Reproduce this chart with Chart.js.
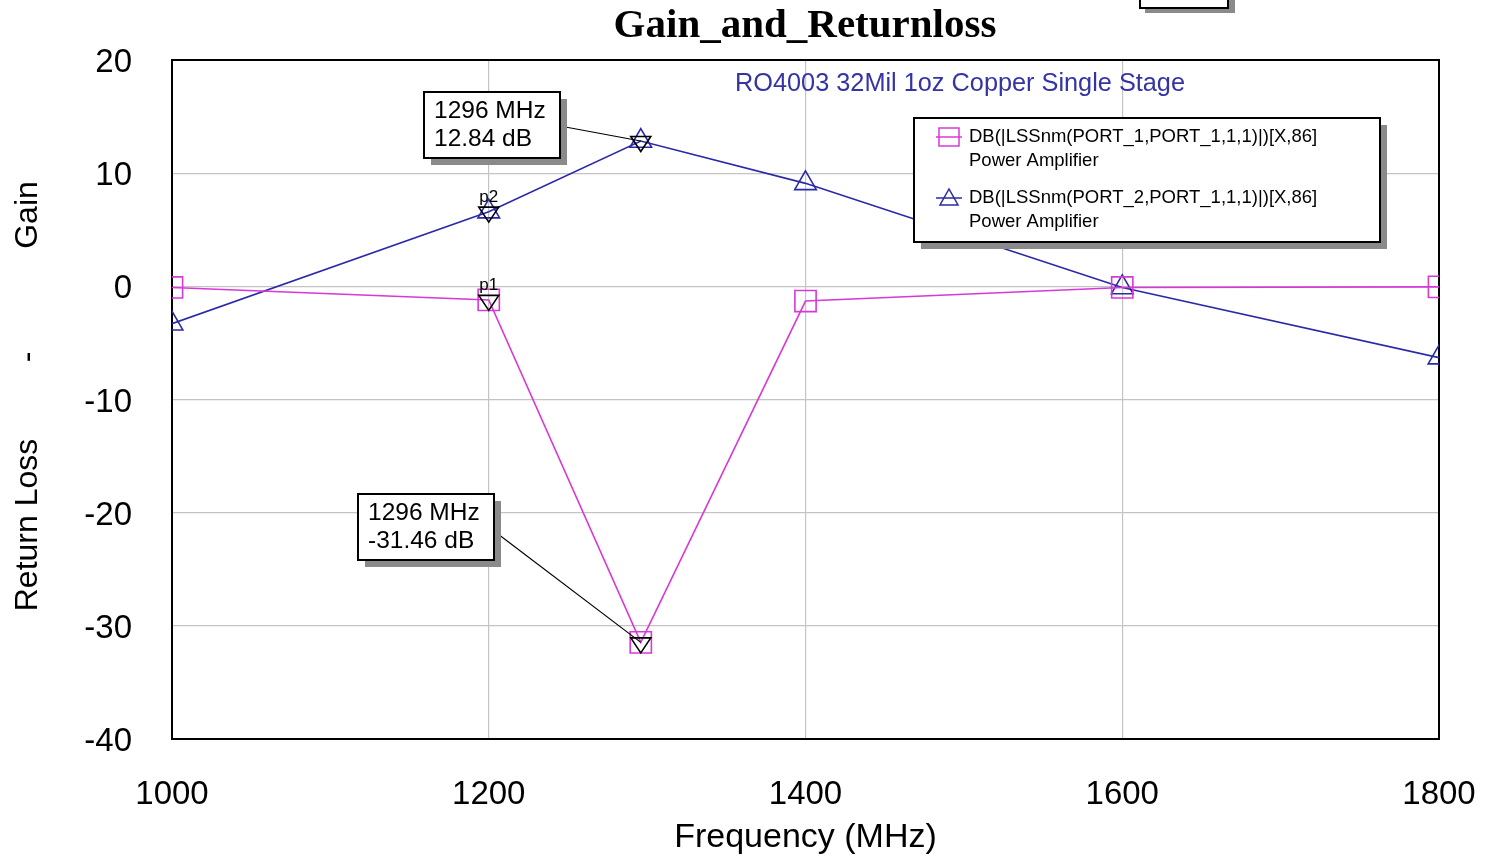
<!DOCTYPE html>
<html>
<head>
<meta charset="utf-8">
<script src="https://cdn.jsdelivr.net/npm/chart.js@4.4.0/dist/chart.umd.min.js"></script>
<style>
html,body{margin:0;padding:0;background:#fff;}
#wrap{width:1491px;height:858px;}
</style>
</head>
<body>
<div id="wrap"><canvas id="c" width="1491" height="858"></canvas></div>
<script>
// ---- data ----
const frequency = [1000, 1200, 1296, 1400, 1600, 1800];
const returnLoss = [-0.1, -1.2, -31.46, -1.3, -0.1, -0.05];
const gain = [-3.3, 6.6, 12.84, 9.1, -0.1, -6.3];
const xTicks = [1000, 1200, 1400, 1600, 1800];
const yTicks = [20, 10, 0, -10, -20, -30, -40];
const seriesNames = ['DB(|LSSnm(PORT_1,PORT_1,1,1)|)[X,86]', 'DB(|LSSnm(PORT_2,PORT_1,1,1)|)[X,86]'];
const seriesSub = ['Power Amplifier', 'Power Amplifier'];
const markerLabels = ['p1', 'p2'];
const markerFreq = 1200;
const peakFreq = 1296;
const titleText = 'Gain_and_Returnloss';
const subtitleText = 'RO4003 32Mil 1oz Copper Single Stage';

const MAG = '#d838d8';
const BLUE = '#2a2aa8';

function pts(ys){ return frequency.map((f,i)=>({x:f,y:ys[i]})); }

function downTri(ctx,x,y,s,color){
  ctx.save();
  ctx.strokeStyle=color; ctx.lineWidth=1.6;
  ctx.beginPath();
  ctx.moveTo(x-s, y-s*0.55);
  ctx.lineTo(x+s, y-s*0.55);
  ctx.lineTo(x, y+s*0.95);
  ctx.closePath(); ctx.stroke();
  ctx.restore();
}

function boxWithShadow(ctx,x,y,w,h){
  ctx.save();
  ctx.fillStyle='#8a8a8a';
  ctx.fillRect(x+7,y+7,w,h);
  ctx.fillStyle='#fff';
  ctx.fillRect(x,y,w,h);
  ctx.strokeStyle='#000'; ctx.lineWidth=2;
  ctx.strokeRect(x,y,w,h);
  ctx.restore();
}

const deco = {
  id:'deco',
  beforeDatasetsDraw(chart){
    const {ctx, chartArea:a} = chart;
    ctx.save();
    ctx.strokeStyle='#000'; ctx.lineWidth=2;
    ctx.strokeRect(a.left,a.top,a.right-a.left,a.bottom-a.top);
    ctx.restore();
  },
  afterDatasetsDraw(chart){
    const {ctx, scales} = chart;
    const xs = scales.x, ys = scales.y;
    const series = [returnLoss, gain];
    const mi = frequency.indexOf(markerFreq);
    series.forEach((s,k)=>{
      const px = xs.getPixelForValue(markerFreq), py = ys.getPixelForValue(s[mi]);
      downTri(ctx,px,py+1,10,'#000');
      ctx.save(); ctx.fillStyle='#000'; ctx.font='17px "Liberation Sans", Arial';
      ctx.textAlign='center'; ctx.textBaseline='bottom';
      ctx.fillText(markerLabels[k], px, py-6);
      ctx.restore();
    });
    const pi = frequency.indexOf(peakFreq);
    const boxes = [
      {s:1, bx:424, by:92, lx:560, ly:126},
      {s:0, bx:358, by:494, lx:494, ly:531}
    ];
    boxes.forEach(b=>{
      const v = series[b.s][pi];
      const px = xs.getPixelForValue(peakFreq), py = ys.getPixelForValue(v);
      downTri(ctx,px,py+1,10,'#000');
      ctx.save(); ctx.strokeStyle='#000'; ctx.lineWidth=1.2;
      ctx.beginPath(); ctx.moveTo(b.lx,b.ly); ctx.lineTo(px,py); ctx.stroke(); ctx.restore();
      boxWithShadow(ctx,b.bx,b.by,136,66);
      ctx.save(); ctx.fillStyle='#000'; ctx.font='24.5px "Liberation Sans", Arial';
      ctx.textAlign='left'; ctx.textBaseline='middle';
      ctx.fillText(peakFreq+' MHz', b.bx+10, b.by+19);
      ctx.fillText(v.toFixed(2)+' dB', b.bx+10, b.by+47);
      ctx.restore();
    });
    boxWithShadow(ctx,914,118,466,124);
    const cols = [MAG, BLUE];
    [0,1].forEach(k=>{
      const yy = 137 + k*61;
      ctx.save();
      ctx.strokeStyle=cols[k]; ctx.lineWidth=1.5;
      ctx.beginPath(); ctx.moveTo(936,yy); ctx.lineTo(962,yy); ctx.stroke();
      if(k===0){ ctx.strokeRect(939,yy-9,20,18); }
      else { ctx.beginPath(); ctx.moveTo(940,yy+7); ctx.lineTo(958,yy+7); ctx.lineTo(949,yy-9); ctx.closePath(); ctx.stroke(); }
      ctx.fillStyle='#000'; ctx.font='18.5px "Liberation Sans", Arial';
      ctx.textAlign='left'; ctx.textBaseline='middle';
      ctx.fillText(seriesNames[k], 969, yy);
      ctx.fillText(seriesSub[k], 969, yy+24);
      ctx.restore();
    });
  },
  afterDraw(chart){
    const {ctx} = chart;
    ctx.save();
    ctx.fillStyle='#000'; ctx.font='bold 41px "Liberation Serif", "Times New Roman", serif';
    ctx.textAlign='center'; ctx.textBaseline='middle';
    ctx.fillText(titleText, 805, 26);
    ctx.fillStyle='#3434a4'; ctx.font='25.3px "Liberation Sans", Arial';
    ctx.fillText(subtitleText, 960, 84);
    ctx.fillStyle='#000'; ctx.font='32px "Liberation Sans", Arial';
    ctx.translate(28, 0); ctx.rotate(-Math.PI/2);
    ctx.fillText('Gain', -215, 0);
    ctx.fillText('-', -357, 0);
    ctx.fillText('Return Loss', -525, 0);
    ctx.restore();
    ctx.save();
    ctx.fillStyle='#8a8a8a'; ctx.fillRect(1145,-30,90,43);
    ctx.fillStyle='#fff'; ctx.fillRect(1140,-40,88,48);
    ctx.strokeStyle='#000'; ctx.lineWidth=2; ctx.strokeRect(1140,-40,88,48);
    ctx.restore();
  }
};

new Chart(document.getElementById('c'), {
  type:'line',
  data:{
    datasets:[
      {label:seriesNames[0], data:pts(returnLoss), borderColor:MAG, borderWidth:1.6,
       pointStyle:'rect', pointRadius:15, pointBorderColor:MAG, pointBackgroundColor:'rgba(0,0,0,0)', pointBorderWidth:1.6, tension:0},
      {label:seriesNames[1], data:pts(gain), borderColor:BLUE, borderWidth:1.6,
       pointStyle:'triangle', pointRadius:12.5, pointBorderColor:BLUE, pointBackgroundColor:'rgba(0,0,0,0)', pointBorderWidth:1.6, tension:0}
    ]
  },
  options:{
    responsive:false, animation:false,
    layout:{padding:{top:60, right:52, left:0, bottom:0}},
    plugins:{legend:{display:false}, title:{display:false}, tooltip:{enabled:false}},
    scales:{
      x:{type:'linear', min:1000, max:1800,
         afterBuildTicks(s){ s.ticks = xTicks.map(v=>({value:v})); },
         afterFit(s){ s.height = 119; s.paddingLeft = 0; s.paddingRight = 0; },
         grid:{color:'#c4c4c4', lineWidth:1.2, drawTicks:false},
         border:{display:false},
         ticks:{color:'#000', font:{family:'"Liberation Sans", Arial', size:33}, padding:36, maxRotation:0,
                callback:(v)=>String(v)},
         title:{display:true, text:'Frequency (MHz)', color:'#000', font:{family:'"Liberation Sans", Arial', size:34}, padding:{top:0,bottom:0}}
      },
      y:{min:-40, max:20,
         afterBuildTicks(s){ s.ticks = yTicks.map(v=>({value:v})); },
         afterFit(s){ s.width = 172; s.paddingTop = 0; s.paddingBottom = 0; },
         grid:{color:'#c4c4c4', lineWidth:1.2, drawTicks:false},
         border:{display:false},
         ticks:{color:'#000', font:{family:'"Liberation Sans", Arial', size:33}, padding:40, labelOffset:3, callback:(v)=>String(v)}
      }
    }
  },
  plugins:[deco]
});
</script>
</body>
</html>
